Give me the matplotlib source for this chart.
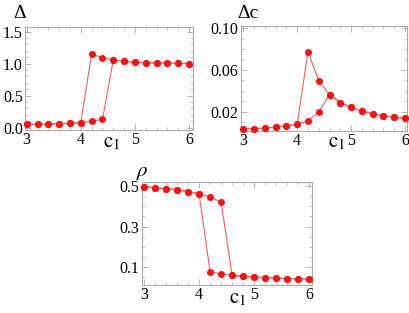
import numpy as np
import matplotlib
matplotlib.use('Agg')
import matplotlib.pyplot as plt
from matplotlib.ticker import MultipleLocator, FormatStrFormatter

plt.rcParams['font.family'] = ['Liberation Serif', 'DejaVu Serif']
plt.rcParams['mathtext.fontset'] = 'stix'

# c1 sweep values
c1 = [3.0, 3.2, 3.4, 3.6, 3.8, 4.0, 4.2, 4.4, 4.6, 4.8, 5.0, 5.2, 5.4, 5.6, 5.8, 6.0]

# gap Delta: forward (increasing c1) and backward sweeps
delta_fwd = [0.053, 0.053, 0.058, 0.063, 0.068, 0.078, 0.10, 0.13,
             1.058, 1.037, 1.02, 1.016, 1.01, 1.01, 1.005, 1.0]
delta_bwd = [0.053, 0.053, 0.058, 0.063, 0.068, 0.078, 1.15, 1.094,
             1.058, 1.037, 1.02, 1.016, 1.01, 1.01, 1.005, 1.0]

# Delta_c
dc_fwd = [0.0033, 0.0036, 0.0042, 0.0052, 0.0065, 0.0078, 0.0113, 0.0196,
          0.0363, 0.0286, 0.0241, 0.0206, 0.018, 0.016, 0.0145, 0.0136]
dc_bwd = [0.0033, 0.0036, 0.0042, 0.0052, 0.0065, 0.0078, 0.0775, 0.0497,
          0.0363, 0.0286, 0.0241, 0.0206, 0.018, 0.016, 0.0145, 0.0136]

# rho
rho_fwd = [0.497, 0.492, 0.487, 0.482, 0.472, 0.462, 0.446, 0.42,
           0.059, 0.054, 0.051, 0.047, 0.046, 0.043, 0.041, 0.04]
rho_bwd = [0.497, 0.492, 0.487, 0.482, 0.472, 0.462, 0.077, 0.065,
           0.059, 0.054, 0.051, 0.047, 0.046, 0.043, 0.041, 0.04]

W, H = 409, 313
fig = plt.figure(figsize=(W / 100, H / 100), dpi=100)


def px_axes(l, t, r, b):
    return fig.add_axes([l / W, 1 - b / H, (r - l) / W, (b - t) / H])


def style(ax, xlim, ylim, yticks, ymin_step, fmt):
    ax.set_xlim(*xlim)
    ax.set_ylim(*ylim)
    ax.set_xticks([3, 4, 5, 6])
    ax.xaxis.set_minor_locator(MultipleLocator(0.2))
    ax.set_yticks(yticks)
    ax.yaxis.set_minor_locator(MultipleLocator(ymin_step))
    ax.yaxis.set_major_formatter(FormatStrFormatter(fmt))
    for s in ax.spines.values():
        s.set_color('#aaaaaa')
        s.set_linewidth(0.8)
    ax.tick_params(which='both', direction='in', top=True, right=True,
                   color='#aaaaaa', labelsize=11.5, pad=1.5)
    ax.tick_params(which='major', length=4, width=0.6)
    ax.tick_params(which='minor', length=2, width=0.5)


def draw(ax, yf, yb):
    for y in (yf, yb):
        ax.plot(c1, y, color='#f06060', lw=0.8, marker='o', ms=4.0,
                mfc='#ff1010', mec='#ff1010', clip_on=False, zorder=3)


ax1 = px_axes(25, 27, 192.7, 130)
draw(ax1, delta_fwd, delta_bwd)
style(ax1, (2.969, 6.068), (-0.036, 1.573), [0.0, 0.5, 1.0, 1.5], 0.1, '%.1f')

ax2 = px_axes(240.7, 25.7, 406.7, 130.7)
draw(ax2, dc_fwd, dc_bwd)
style(ax2, (2.952, 6.031), (0.0017, 0.1025), [0.02, 0.06, 0.10], 0.01, '%.2f')

ax3 = px_axes(141.5, 182, 311.7, 285)
draw(ax3, rho_fwd, rho_bwd)
style(ax3, (2.955, 6.044), (0.011, 0.52), [0.1, 0.3, 0.5], 0.05, '%.1f')


def ftext(x, y, s, **kw):
    fig.text(x / W, 1 - y / H, s, ha='center', va='center', **kw)


ftext(20, 14, 'Δ', fontsize=14)
ftext(248, 13, 'Δc', fontsize=14)
ftext(142, 173, r'$\rho$', fontsize=15)
ftext(112, 143, r'$\mathrm{c}_1$', fontsize=15)
ftext(337, 143, r'$\mathrm{c}_1$', fontsize=15)
ftext(238, 299, r'$\mathrm{c}_1$', fontsize=15)

fig.savefig('out.png', dpi=100)
